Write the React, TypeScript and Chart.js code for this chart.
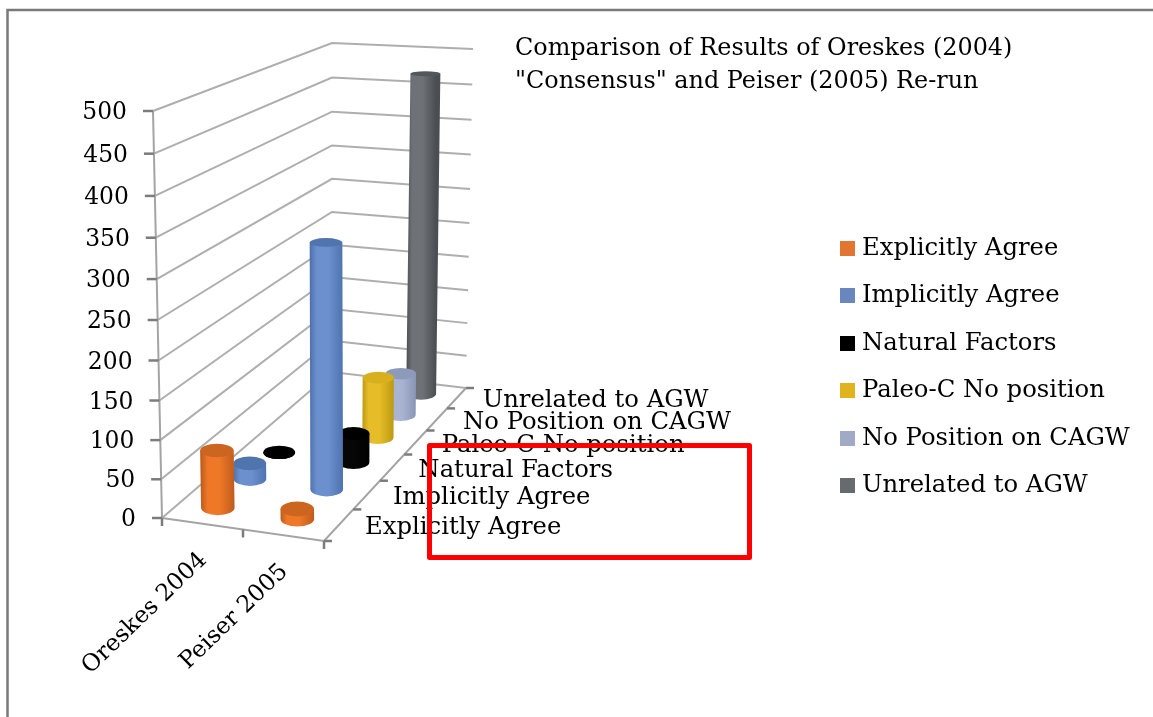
import React, { useEffect, useRef } from "react";
import { Chart, BarController, registerables } from "chart.js";

Chart.register(...registerables);

const categories = ["Oreskes 2004", "Peiser 2005"];
const seriesNames = [
  "Explicitly Agree",
  "Implicitly Agree",
  "Natural Factors",
  "Paleo-C No position",
  "No Position on CAGW",
  "Unrelated to AGW",
];
const explicitlyAgree = [75, 13];
const implicitlyAgree = [21, 322];
const naturalFactors = [0, 40];
const paleoNoPosition = [null, 86];
const noPositionCagw = [null, 61];
const unrelatedAgw = [null, 470];
const seriesValues = [explicitlyAgree, implicitlyAgree, naturalFactors, paleoNoPosition, noPositionCagw, unrelatedAgw];

const legendColors = ["#E2752F", "#6A86BE", "#000000", "#DFB41F", "#A0A9C6", "#666B70"];
const sideEdge = ["#C05C1C", "#4F73AE", "#000000", "#BE9A12", "#8A96B6", "#4A4E52"];
const sideMid = ["#EE7828", "#6C90CE", "#060606", "#E6BC28", "#A8B4D1", "#6E7276"];
const capColors = ["#CC651F", "#4F74AE", "#000000", "#D8B01E", "#8D9AB9", "#53575B"];

const titleLines = ['Comparison of Results of Oreskes (2004)', '"Consensus" and Peiser (2005) Re-run'];
const FONT = '"DejaVu Serif"';
const fontPx = 24.3;
const titleFontPx = 23.9;
const axisFontPx = 23.4;

// Box of the 3D plot as seen on screen: floor corners and wall-top corners.
const floorFL = [162, 518], floorFR = [324, 541], floorBR = [466, 388], floorBL = [332, 372];
const topFL = [153, 111], topFR = [322, 124], topBR = [473, 49], topBL = [332, 43];

const mix = (a: number[], b: number[], t: number) => [a[0] + (b[0] - a[0]) * t, a[1] + (b[1] - a[1]) * t];
const warpDepth = (t: number) => (t * 1.3) / (1 + 0.3 * t);
const warpValue = (w: number) => w - 0.054 * w * (1 - w);
const dec = (scale: any, v: number) => scale.getDecimalForPixel(scale.getPixelForValue(v));
function project(u: number, v: number, w: number) {
  const d = warpDepth(v);
  const f = mix(mix(floorFL, floorBL, d), mix(floorFR, floorBR, d), u);
  const t = mix(mix(topFL, topBL, d), mix(topFR, topBR, d), u);
  return mix(f, t, warpValue(w));
}

function drawCylinder(ctx: CanvasRenderingContext2D, u: number, v: number, w: number, idx: number) {
  const b = project(u, v, 0);
  const t = project(u, v, w);
  const d = warpDepth(v);
  const rx = 17 - 2.2 * d;
  const ry = (y: number) => 2 + (y - 40) * 0.0115;
  const g = ctx.createLinearGradient(b[0] - rx, 0, b[0] + rx, 0);
  g.addColorStop(0, sideEdge[idx]);
  g.addColorStop(0.2, sideMid[idx]);
  g.addColorStop(0.55, sideMid[idx]);
  g.addColorStop(1, sideEdge[idx]);
  ctx.save();
  ctx.fillStyle = g;
  ctx.beginPath();
  ctx.moveTo(t[0] - rx, t[1]);
  ctx.lineTo(b[0] - rx, b[1]);
  ctx.ellipse(b[0], b[1], rx, ry(b[1]), 0, Math.PI, 0, true);
  ctx.lineTo(t[0] + rx, t[1]);
  ctx.closePath();
  ctx.fill();
  ctx.fillStyle = capColors[idx];
  ctx.beginPath();
  ctx.ellipse(t[0], t[1], rx, ry(t[1]), 0, 0, Math.PI * 2);
  ctx.fill();
  ctx.restore();
}

class Cylinder3DController extends BarController {
  static id = "cylinder3d";
  static defaults = { ...BarController.defaults };
  static overrides = BarController.overrides;
  draw() {
    const chart = this.chart;
    const ctx = chart.ctx;
    const { x, y, z } = chart.scales as any;
    const i = this.index;
    const v = dec(z, i);
    const count = this.getMeta().data.length;
    for (let c = 0; c < count; c++) {
      const val = this.getParsed(c).y;
      if (val === null || val === undefined || Number.isNaN(val)) continue;
      drawCylinder(ctx, dec(x, c) - 0.012, v, dec(y, val), i);
    }
  }
}
Chart.register(Cylinder3DController as any);

function line(ctx: CanvasRenderingContext2D, pts: number[][], color: string, width: number) {
  ctx.strokeStyle = color;
  ctx.lineWidth = width;
  ctx.beginPath();
  pts.forEach((p, i) => (i ? ctx.lineTo(p[0], p[1]) : ctx.moveTo(p[0], p[1])));
  ctx.stroke();
}

const boxPlugin = {
  id: "box3d",
  afterLayout(chart: any) {
    const t = chart.titleBlock;
    t.left = 515;
    t.right = 1150;
    t.top = 32;
    const l = chart.legend;
    const h = l.bottom - l.top;
    l.left = 822;
    l.right = 1150;
    l.top = 213;
    l.bottom = 213 + h;
  },
  beforeDraw(chart: any) {
    const ctx = chart.ctx;
    ctx.save();
    ctx.fillStyle = "#fff";
    ctx.fillRect(0, 0, chart.width, chart.height);
    line(ctx, [[7.5, 717], [7.5, 10], [1153, 10]], "#7a7a7a", 2.5);
    ctx.restore();
  },
  beforeDatasetsDraw(chart: any) {
    const ctx = chart.ctx;
    const { x, y, z } = chart.scales;
    const grid = "#aeaeae", axis = "#a4a4a4", tick = "#7c7c7c";
    ctx.save();
    y.ticks.forEach((t: any) => {
      const w = dec(y, t.value);
      const p = project(0, 0, w);
      line(ctx, [p, project(0, 1, w), project(1, 1, w)], grid, 2);
    });
    line(ctx, [project(0, 0, 0), project(1, 0, 0), project(1, 1, 0)], axis, 2);
    line(ctx, [project(0, 0, 0), project(0, 0, 1)], axis, 2);
    ctx.font = `${axisFontPx}px ${FONT}`;
    ctx.fillStyle = "#000";
    ctx.textBaseline = "middle";
    ctx.textAlign = "right";
    y.ticks.forEach((t: any) => {
      const w = dec(y, t.value);
      const p = project(0, 0, w);
      line(ctx, [[p[0] - 10, p[1]], p], tick, 2.5);
      ctx.fillText(t.label, p[0] - 26, p[1] + 2);
    });
    // category ticks along the front floor edge
    [0, 0.5, 1].forEach((u) => {
      const p = project(u, 0, 0);
      line(ctx, [p, [p[0], p[1] + 8]], tick, 2.5);
    });
    categories.forEach((c, i) => {
      const p = project(dec(x, i), 0, 0);
      ctx.save();
      ctx.translate(p[0] + 1, p[1] + 33);
      ctx.rotate((-44 * Math.PI) / 180);
      ctx.textAlign = "right";
      ctx.fillStyle = "#000";
      ctx.fillText(c, 0, 0);
      ctx.restore();
    });
    // depth ticks along the right floor edge
    for (let i = 0; i <= seriesNames.length; i++) {
      const p = project(1, i / seriesNames.length, 0);
      line(ctx, [p, [p[0] + 8, p[1]]], tick, 2.5);
    }
    ctx.font = `${fontPx}px ${FONT}`;
    ctx.textAlign = "left";
    seriesNames.forEach((s, i) => {
      const p = project(1, dec(z, i), 0);
      ctx.fillStyle = "#000";
      ctx.fillText(s, p[0] + 26, p[1] + 3);
    });
    ctx.restore();
  },
  afterDraw(chart: any) {
    const ctx = chart.ctx;
    ctx.save();
    ctx.strokeStyle = "#ff0000";
    ctx.lineWidth = 5;
    ctx.lineJoin = "round";
    ctx.strokeRect(429.5, 445.5, 320, 112);
    ctx.restore();
  },
};

function swatch(color: string) {
  const c = document.createElement("canvas");
  c.width = 15;
  c.height = 15;
  const g = c.getContext("2d")!;
  g.fillStyle = color;
  g.fillRect(0, 0, 15, 15);
  return c;
}

export default function App() {
  const ref = useRef<HTMLCanvasElement>(null);
  useEffect(() => {
    document.body.style.margin = "0";
    const chart = new Chart(ref.current!, {
      type: "cylinder3d" as any,
      plugins: [boxPlugin],
      data: {
        labels: categories,
        datasets: seriesNames.map((name, i) => ({
          label: name,
          data: seriesValues[i],
          backgroundColor: legendColors[i],
          clip: false,
        })) as any,
      },
      options: {
        responsive: false,
        animation: false,
        layout: { padding: { left: 60, right: 0, top: 0, bottom: 100 } },
        scales: {
          x: { type: "category", offset: true, display: false },
          y: { type: "linear", min: 0, max: 500, ticks: { stepSize: 50 }, display: false },
          z: { type: "category", axis: "x", position: "bottom", labels: seriesNames, offset: true, display: false },
        } as any,
        plugins: {
          tooltip: { enabled: false },
          title: {
            display: true,
            text: titleLines,
            align: "start",
            color: "#000",
            padding: 0,
            font: { family: FONT, size: titleFontPx, weight: "normal", lineHeight: 33 / titleFontPx },
          },
          legend: {
            display: true,
            position: "right",
            align: "start",
            labels: {
              color: "#000",
              padding: 23.2,
              usePointStyle: true,
              pointStyleWidth: 4.6,
              font: { family: FONT, size: fontPx },
              generateLabels: () =>
                seriesNames.map((s, i) => ({
                  text: s,
                  fillStyle: legendColors[i],
                  strokeStyle: legendColors[i],
                  lineWidth: 0,
                  hidden: false,
                  datasetIndex: i,
                  pointStyle: swatch(legendColors[i]),
                })) as any,
            },
          },
        },
      },
    });
    return () => chart.destroy();
  }, []);
  return (
    <canvas
      ref={ref}
      width={1153}
      height={717}
      style={{ display: "block", width: 1153, height: 717, filter: "blur(0.4px)" }}
    />
  );
}
